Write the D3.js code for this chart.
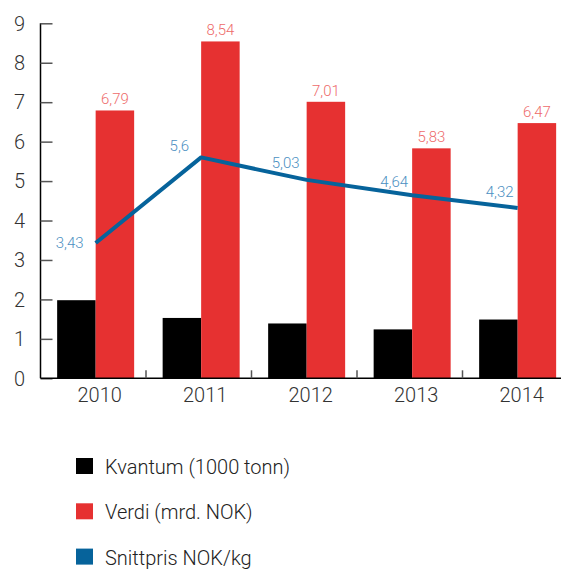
<!DOCTYPE html>
<html>
<head>
<meta charset="utf-8">
<script src="https://cdn.jsdelivr.net/npm/d3@7"></script>
<style>
  html, body { margin: 0; padding: 0; background: #fff; }
  svg { display: block; font-family: Roboto, "DejaVu Sans", sans-serif; font-weight: 300; }
</style>
</head>
<body>
<svg id="chart" width="561" height="569"></svg>
<script>
const years = ["2010", "2011", "2012", "2013", "2014"];
const kvantum = [1.98, 1.53, 1.39, 1.24, 1.49];
const verdi = [6.79, 8.54, 7.01, 5.83, 6.47];
const snittpris = [3.43, 5.6, 5.03, 4.64, 4.32];
const yTicks = [0, 1, 2, 3, 4, 5, 6, 7, 8, 9];
const legendLabels = ["Kvantum (1000 tonn)", "Verdi (mrd. NOK)", "Snittpris NOK/kg"];

const colors = { kvantum: "#000000", verdi: "#e63131", line: "#06639b", verdiLabel: "#ee6b6b", lineLabel: "#4b90c2" };

const svg = d3.select("#chart");
const x = d3.scaleBand().domain(years).range([40.5, 568]).paddingInner(0).paddingOuter(0);
const y = d3.scaleLinear().domain([0, 9]).range([378.3, 23.3]);
const barW = 38.5;
const groupShift = 2.4;
const cx = d => x(d) + x.bandwidth() / 2 + groupShift;

// Y axis
const yAxis = svg.append("g").attr("transform", "translate(40.5,0)")
  .call(d3.axisRight(y).tickValues(yTicks).tickSize(12).tickFormat(""));
yAxis.select(".domain").attr("stroke", "#000").attr("stroke-width", 1.5).attr("d", `M0,${y(9)}V${y(0)}`);
yAxis.selectAll(".tick line").attr("stroke", "#555").attr("stroke-width", 1.5);
svg.append("g").selectAll("text").data(yTicks).join("text")
  .attr("x", 25).attr("y", d => y(d)).attr("dy", "0.36em")
  .attr("text-anchor", "end").attr("font-size", 20).attr("fill", "#333")
  .text(d => d);

// bars
const data = years.map((yr, i) => ({ yr, k: kvantum[i], v: verdi[i], s: snittpris[i] }));
svg.append("g").selectAll("rect").data(data).join("rect")
  .attr("x", d => cx(d.yr) - barW).attr("width", barW)
  .attr("y", d => y(d.k)).attr("height", d => y(0) - y(d.k))
  .attr("fill", colors.kvantum);
svg.append("g").selectAll("rect").data(data).join("rect")
  .attr("x", d => cx(d.yr)).attr("width", barW)
  .attr("y", d => y(d.v)).attr("height", d => y(0) - y(d.v))
  .attr("fill", colors.verdi);
svg.append("g").selectAll("text").data(data).join("text")
  .attr("x", d => cx(d.yr) + barW / 2).attr("y", d => y(d.v) - 6)
  .attr("text-anchor", "middle").attr("font-size", 15).attr("fill", colors.verdiLabel)
  .text(d => String(d.v).replace(".", ","));

// X axis
const xAxisG = svg.append("g").attr("transform", `translate(0,${y(0)})`);
xAxisG.append("line").attr("x1", 40.5).attr("x2", 561).attr("stroke", "#000").attr("stroke-width", 1.5);
xAxisG.selectAll("line.tk").data(years.slice(1)).join("line").attr("class", "tk")
  .attr("x1", d => x(d)).attr("x2", d => x(d)).attr("y1", 0).attr("y2", -8)
  .attr("stroke", "#555").attr("stroke-width", 1.5);
xAxisG.selectAll("text").data(years).join("text")
  .attr("x", d => cx(d) + 4).attr("y", 24)
  .attr("text-anchor", "middle").attr("font-size", 20).attr("fill", "#333")
  .text(d => d);

// line
const line = d3.line().x(d => cx(d.yr)).y(d => y(d.s));
svg.append("path").datum(data).attr("d", line)
  .attr("fill", "none").attr("stroke", colors.line).attr("stroke-width", 4).attr("stroke-linejoin", "round");
const lblOff = [[-12, 0], [-12, -12], [-7, -17], [-4, -14], [-4, -16]];
svg.append("g").selectAll("text").data(data).join("text")
  .attr("x", (d, i) => cx(d.yr) + lblOff[i][0]).attr("y", (d, i) => y(d.s) + lblOff[i][1])
  .attr("dy", "0.36em").attr("text-anchor", "end").attr("font-size", 15).attr("fill", colors.lineLabel)
  .text(d => String(d.s).replace(".", ","));

// legend
const legColors = [colors.kvantum, colors.verdi, colors.line];
const leg = svg.append("g").selectAll("g").data(legendLabels).join("g")
  .attr("transform", (d, i) => `translate(76,${474 + i * 45.3})`);
leg.append("rect").attr("y", -16).attr("width", 17).attr("height", 16).attr("fill", (d, i) => legColors[i]);
leg.append("text").attr("x", 29).attr("y", 0).attr("font-size", 20).attr("fill", "#222").text(d => d);
</script>
</body>
</html>
